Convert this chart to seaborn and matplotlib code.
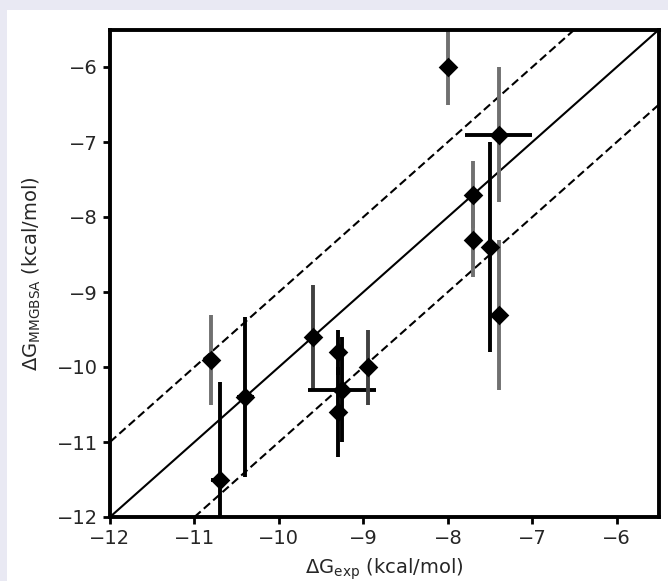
import numpy as np
import pandas as pd
import matplotlib
matplotlib.use("Agg")
import matplotlib.pyplot as plt
from matplotlib.patches import Rectangle
import seaborn as sns

# experimental vs computed binding free energies (kcal/mol)
dg_exp = [-8.0, -7.4, -7.7, -7.7, -7.5, -7.4, -10.8, -10.7, -10.4, -9.6, -9.3, -9.25, -9.3, -8.95]
dg_calc = [-6.0, -6.9, -7.7, -8.3, -8.4, -9.3, -9.9, -11.5, -10.4, -9.6, -9.8, -10.3, -10.6, -10.0]
err_exp = [0.0, 0.4, 0.0, 0.0, 0.0, 0.0, 0.0, 0.1, 0.1, 0.0, 0.0, 0.4, 0.0, 0.0]
err_calc = [0.5, 0.9, 0.45, 0.5, 1.4, 1.0, 0.6, 1.3, 1.07, 0.7, 0.3, 0.7, 0.6, 0.5]
bar_color = ["#707070", "#707070", "#707070", "#707070", "black", "#707070", "#707070",
             "black", "black", "#404040", "black", "black", "black", "#404040"]
xbar_color = ["black"] * len(dg_exp)

df = pd.DataFrame({"exp": dg_exp, "calc": dg_calc, "xerr": err_exp, "yerr": err_calc,
                   "c": bar_color, "cx": xbar_color})

sns.set_style("ticks")
plt.rcParams["font.family"] = ["DejaVu Sans"]

fig = plt.figure(figsize=(6.68, 5.81), dpi=100)
fig.patch.set_facecolor("#e9e9f3")
fig.patches.append(Rectangle((7 / 668, 0), 1, 1 - 10 / 581, transform=fig.transFigure,
                             facecolor="white", edgecolor="none", zorder=-10))
ax = fig.add_axes([110 / 668, 1 - 517 / 581, 549 / 668, 487.5 / 581])
ax.set_facecolor("white")

# identity line and +/- 1 kcal/mol band
ax.axline((-12, -12), slope=1, color="black", lw=1.5, zorder=1)
ax.axline((-12, -11), slope=1, color="black", lw=1.5, ls=(0, (4, 2)), zorder=1)
ax.axline((-12, -13), slope=1, color="black", lw=1.5, ls=(0, (4, 2)), zorder=1)

for _, r in df.iterrows():
    ax.errorbar(r["exp"], r["calc"], yerr=r["yerr"], fmt="none", ecolor=r["c"],
                elinewidth=2.8, capsize=0, zorder=2)
    if r["xerr"] > 0:
        ax.errorbar(r["exp"], r["calc"], xerr=r["xerr"], fmt="none", ecolor=r["cx"],
                    elinewidth=2.8, capsize=0, zorder=2)

sns.scatterplot(data=df, x="exp", y="calc", marker="D", s=100, color="black",
                edgecolor="black", linewidth=0, ax=ax, zorder=3)

ax.set_xlim(-12, -5.5)
ax.set_ylim(-12, -5.5)
ax.set_xticks([-12, -11, -10, -9, -8, -7, -6])
ax.set_yticks([-12, -11, -10, -9, -8, -7, -6])
ax.tick_params(labelsize=14, width=2, length=5, color="black")
for s in ax.spines.values():
    s.set_linewidth(2.8)
    s.set_color("black")
ax.set_xlabel(r"$\Delta\mathrm{G}_{\mathrm{exp}}$ (kcal/mol)", fontsize=14, labelpad=6)
ax.set_ylabel(r"$\Delta\mathrm{G}_{\mathrm{MMGBSA}}$ (kcal/mol)", fontsize=14, labelpad=10)

fig.savefig("out.png", dpi=100, facecolor=fig.get_facecolor())
